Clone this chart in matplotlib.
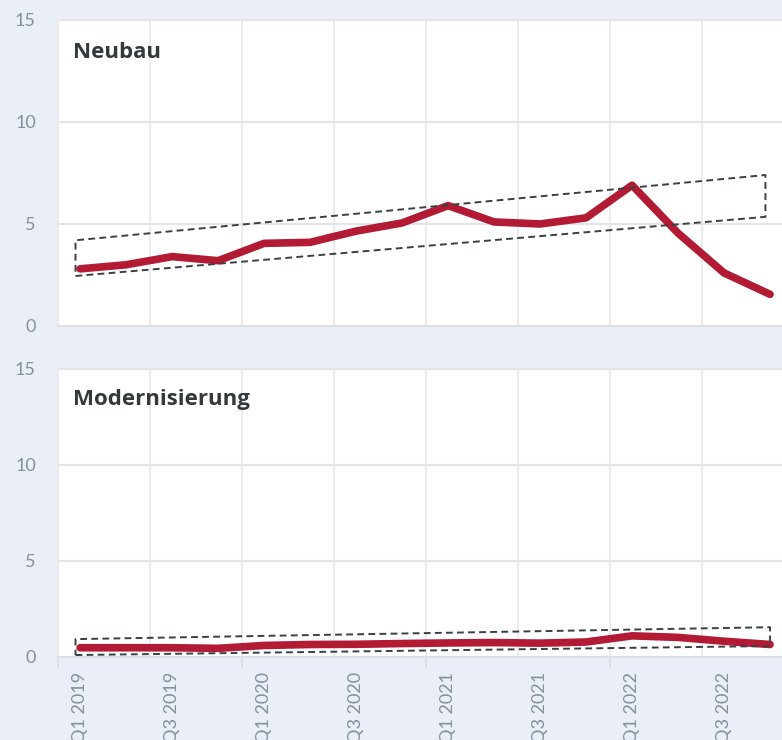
import numpy as np
import matplotlib
matplotlib.use("Agg")
import matplotlib.pyplot as plt

plt.rcParams['font.family'] = ['Lato', 'DejaVu Sans']

quarters = ["Q1 2019", "Q2 2019", "Q3 2019", "Q4 2019",
            "Q1 2020", "Q2 2020", "Q3 2020", "Q4 2020",
            "Q1 2021", "Q2 2021", "Q3 2021", "Q4 2021",
            "Q1 2022", "Q2 2022", "Q3 2022", "Q4 2022"]

neubau = [2.8, 3.0, 3.4, 3.2, 4.05, 4.1, 4.65, 5.05,
          5.9, 5.1, 5.0, 5.3, 6.9, 4.55, 2.6, 1.55]
modernisierung = [0.48, 0.48, 0.48, 0.45, 0.6, 0.65, 0.66, 0.7,
                  0.73, 0.75, 0.72, 0.78, 1.1, 1.02, 0.82, 0.65]

# trend bands: x start/end (quarter index), lower and upper edge values
neubau_band_x = [-0.1, 14.9]
neubau_band_lo = [2.45, 5.35]
neubau_band_hi = [4.2, 7.4]
modern_band_x = [-0.1, 15.0]
modern_band_lo = [0.1, 0.57]
modern_band_hi = [0.93, 1.55]

panels = [("Neubau", neubau, neubau_band_x, neubau_band_lo, neubau_band_hi),
          ("Modernisierung", modernisierung, modern_band_x, modern_band_lo, modern_band_hi)]

bg = '#eaeef6'
red = '#b31b34'
dark = '#3a3f44'
tick_col = '#84909a'

fig = plt.figure(figsize=(7.82, 7.40), dpi=100, facecolor=bg)
axes = [fig.add_axes([0.0742, 0.5595, 0.9258, 0.4135]),
        fig.add_axes([0.0742, 0.1122, 0.9258, 0.3892])]

x = np.arange(len(quarters))
year_start = -0.48  # Jan 1 2019 in quarter-index units

for i, (ax, (title, vals, bx, blo, bhi)) in enumerate(zip(axes, panels)):
    ax.set_facecolor('white')
    ax.set_xlim(year_start, 15.26)
    ax.set_ylim(0, 15)

    for g in year_start + 2 * np.arange(8):
        ax.axvline(g, color='#ececec', lw=1.5, zorder=0)
    for v in [5, 10, 15]:
        ax.axhline(v, color='#e2e4e8', lw=1.5, zorder=0, clip_on=False)

    ax.plot(x, vals, color=red, lw=5.5, solid_capstyle='round',
            solid_joinstyle='round', zorder=3)

    px = [bx[0], bx[1], bx[1], bx[0], bx[0]]
    py = [blo[0], blo[1], bhi[1], bhi[0], blo[0]]
    ax.plot(px, py, color=dark, lw=1.4, ls=(0, (3.5, 2.2)), zorder=4)

    ax.text(0.021, 0.895, title, transform=ax.transAxes, fontsize=16,
            family=['Open Sans', 'DejaVu Sans'], fontweight='bold',
            color='#333a3d', va='center', ha='left')

    for s in ['top', 'right']:
        ax.spines[s].set_visible(False)
    ax.spines['left'].set_color('#ececec')
    ax.spines['left'].set_linewidth(1.5)
    ax.spines['bottom'].set_color('#dcdfe4')
    ax.spines['bottom'].set_linewidth(1.5)

    ax.set_yticks([0, 5, 10, 15])
    ax.tick_params(axis='y', length=0, pad=16, labelsize=13, labelcolor=tick_col)

    if i == 0:
        ax.set_xticks([])
    else:
        ax.set_xticks(x[::2])
        ax.set_xticklabels(quarters[::2], rotation=90, va='top', ha='center')
        ax.tick_params(axis='x', length=0, pad=11, labelsize=13, labelcolor=tick_col)
        ax.set_xticks(year_start + 4 * np.arange(4), minor=True)
        ax.tick_params(axis='x', which='minor', length=8, width=1.5, color='#dcdfe4')

fig.savefig("out.png", dpi=100, facecolor=bg)
